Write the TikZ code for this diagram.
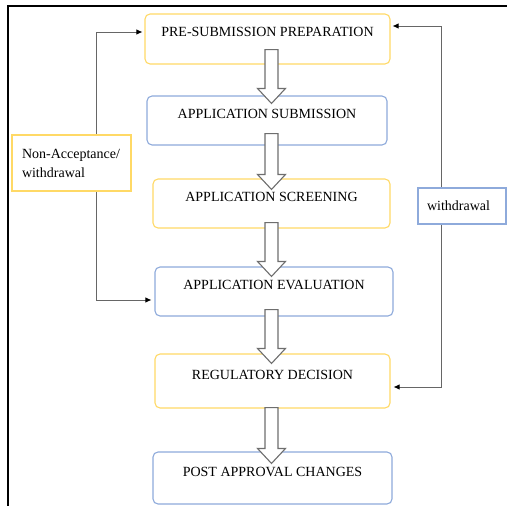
\documentclass[tikz,border=0pt]{standalone}
\usepackage{fontspec}
\setmainfont{Liberation Serif}
\usetikzlibrary{calc,arrows.meta,backgrounds}
\definecolor{boxyellow}{HTML}{FFD966}
\definecolor{boxblue}{HTML}{8EAADB}
\definecolor{connline}{HTML}{666666}
\definecolor{harrline}{HTML}{6E6E6E}
\newcommand\harrow[4]{%
  \draw[harr] let \p0=(ax), \p1=([yshift=#3]#1.south), \p2=([yshift=-#4]#2.north) in
   (\x0-6.5pt,\y1) -- (\x0-6.5pt,\y2+15pt) -- (\x0-14pt,\y2+15pt) -- (\x0,\y2)
   -- (\x0+14pt,\y2+15pt) -- (\x0+6.5pt,\y2+15pt) -- (\x0+6.5pt,\y1) -- cycle;}
\begin{document}
\begin{tikzpicture}[x=1pt,y=-1pt,
  font=\fontsize{14}{19}\selectfont,
  stage/.style={draw, fill=white, rounded corners=5pt, line width=1.1pt,
    inner sep=0pt, text height=9pt, text depth=13pt, anchor=center},
  ystage/.style={stage, draw=boxyellow},
  bstage/.style={stage, draw=boxblue},
  sidebox/.style={draw, fill=white, line width=1.1pt, align=left, inner xsep=0pt, inner ysep=0pt},
  conn/.style={draw=connline, line width=0.9pt, -{Latex[length=6pt,width=5.5pt,color=black]}},
  harr/.style={draw=harrline, line width=1.1pt, fill=white, line join=miter}]
\useasboundingbox (0,0) rectangle (507,506);
\draw[line width=2pt] (8,506) -- (8,5.5) -- (507,5.5);
\coordinate (ax) at (271.5,0);
\coordinate (lx) at (96,0);
\coordinate (rx) at (441,0);

\node[ystage, minimum width=245pt, minimum height=50pt] (b1) at (267.5,39) {PRE-SUBMISSION PREPARATION};
\node[bstage, minimum width=240pt, minimum height=49pt] (b2) at (267,120.5) {APPLICATION SUBMISSION};
\node[ystage, minimum width=237pt, minimum height=49pt] (b3) at (271.5,203.5) {APPLICATION SCREENING};
\node[bstage, minimum width=238pt, minimum height=49pt] (b4) at (274,291.5) {APPLICATION EVALUATION};
\node[ystage, minimum width=235pt, minimum height=54pt] (b5) at (272.5,381) {REGULATORY DECISION};
\node[bstage, minimum width=239pt, minimum height=52pt] (b6) at (272.5,478) {POST APPROVAL CHANGES};

\node[sidebox, draw=boxyellow, minimum width=119pt, minimum height=56pt, text width=99pt] (nonacc) at (71.5,163) {Non-Acceptance/\\withdrawal};
\node[sidebox, draw=boxblue, minimum width=88pt, minimum height=36pt, text width=70pt] (wd) at (462,206) {withdrawal};

\begin{pgfonlayer}{background}
\draw[conn] (nonacc.north -| lx) |- ([xshift=-2pt,yshift=7pt]b1.west);
\draw[conn] (nonacc.south -| lx) |- ([xshift=-3pt,yshift=-8.5pt]b4.west);
\draw[conn] (wd.north -| rx) |- ([xshift=2pt,yshift=13pt]b1.east);
\draw[conn] (wd.south -| rx) |- ([xshift=3pt,yshift=-6pt]b5.east);
\end{pgfonlayer}

\harrow{b1}{b2}{15pt}{8pt}
\harrow{b2}{b3}{12pt}{11pt}
\harrow{b3}{b4}{6pt}{10pt}
\harrow{b4}{b5}{7pt}{10pt}
\harrow{b5}{b6}{1pt}{12pt}
\end{tikzpicture}
\end{document}
